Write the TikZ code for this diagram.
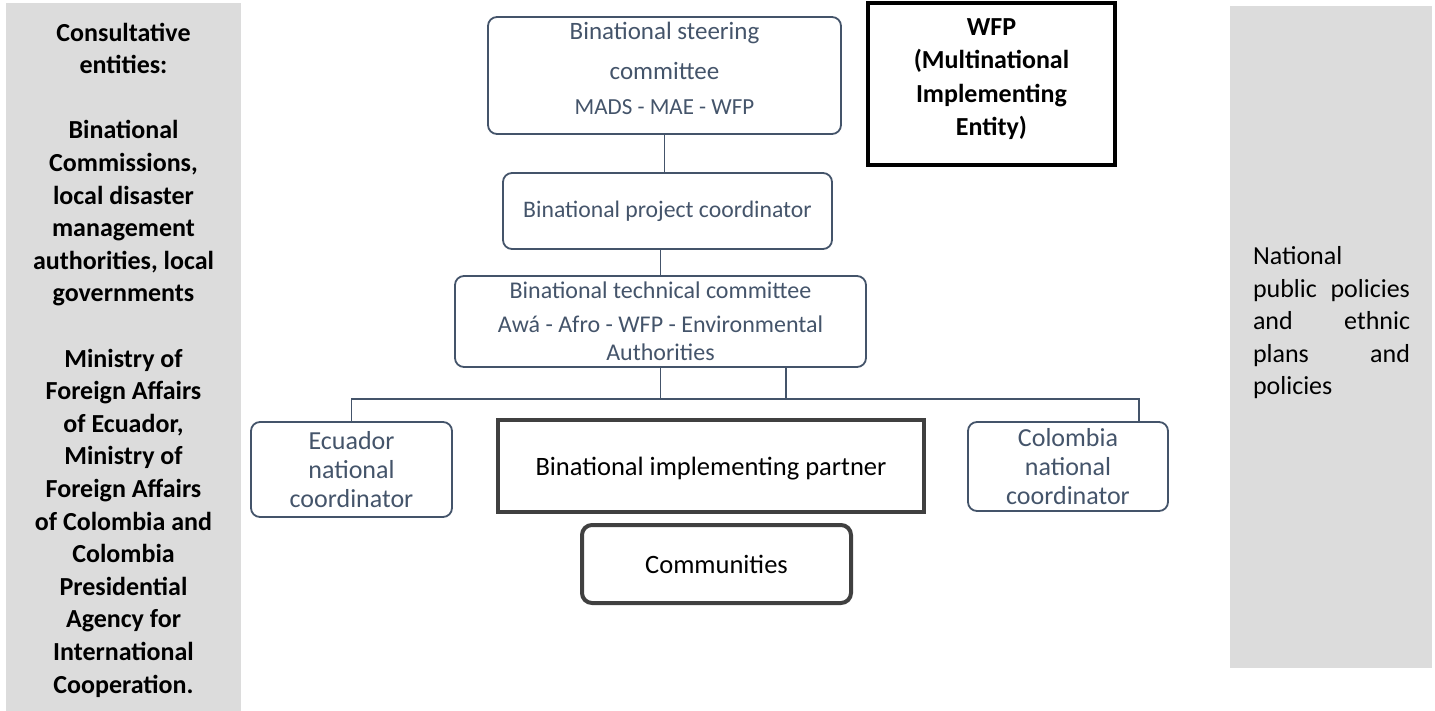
\documentclass[tikz,border=0pt]{standalone}
\usepackage{fontspec}
\setmainfont{Carlito}
\usetikzlibrary{positioning}
\definecolor{slate}{HTML}{44546A}
\definecolor{panelgray}{HTML}{DCDCDC}
\definecolor{darkline}{HTML}{404040}

\begin{document}
\begin{tikzpicture}[x=1pt,y=-1pt]
	\tikzstyle{orgbox} = [draw=slate,line width=1.8pt,rounded corners=9pt,text=slate,align=center,inner sep=2pt]
	\tikzstyle{heavybox} = [draw=darkline,line width=4pt,align=center,inner sep=2pt]
	\tikzstyle{link} = [draw=slate,line width=1.8pt]

	\useasboundingbox (0,0) rectangle (1435,711);

	% side panels
	\fill[panelgray] (6,3) rectangle (241,711);
	\fill[panelgray] (1230,6) rectangle (1432,668);

	\node[font=\bfseries\fontsize{26}{32.6}\selectfont,align=center] (consult) at (123.5,360) {Consultative\\entities:\\[32.6pt]Binational\\Commissions,\\local disaster\\management\\authorities, local\\governments\\[32.6pt]Ministry of\\Foreign Affairs\\of Ecuador,\\Ministry of\\Foreign Affairs\\of Colombia and\\Colombia\\Presidential\\Agency for\\International\\Cooperation.};
	\node[font=\fontsize{26}{32.5}\selectfont,align=left,text width=157pt,inner sep=0pt] (policies) at (1331.5,323) {National\\public\hfill policies\\and\hfill ethnic\\plans\hfill and\\policies};

	\node[orgbox,minimum width=353,minimum height=117,text depth=15pt,font=\fontsize{25}{40}\selectfont] (steer) at (664.5,75.5) {Binational steering\\committee\\[-5pt]{\fontsize{23}{28}\selectfont MADS - MAE - WFP}};
	\node[draw=black,line width=4pt,align=center,minimum width=247,minimum height=162,text depth=14pt,font=\bfseries\fontsize{26}{33.5}\selectfont] (wfp) at (991.5,84) {WFP\\(Multinational\\Implementing\\Entity)};
	\node[orgbox,minimum width=329,minimum height=76,font=\fontsize{23.7}{28}\selectfont] (coord) at (667.5,211) {Binational project coordinator};
	\node[orgbox,minimum width=411,minimum height=91,font=\fontsize{24}{28}\selectfont] (tech) at (660.5,321.5) {Binational technical committee\\[6pt]Awá - Afro - WFP - Environmental\\Authorities};
	\node[orgbox,minimum width=201,minimum height=95,font=\fontsize{26}{29}\selectfont] (ecu) at (351.5,469.5) {Ecuador\\national\\coordinator};
	\node[heavybox,minimum width=426,minimum height=92,text height=24pt,font=\fontsize{26.5}{32}\selectfont] (partner) at (711,466) {Binational implementing partner};
	\node[orgbox,minimum width=200,minimum height=89,font=\fontsize{26}{29}\selectfont] (colo) at (1068,466.5) {Colombia\\national\\coordinator};
	\node[heavybox,rounded corners=10pt,minimum width=269,minimum height=78,font=\fontsize{26.5}{32}\selectfont] (comm) at (716.5,564) {Communities};

	\coordinate (busR) at (1139,399);
	\coordinate (coloTop) at (1139,422);
	\coordinate (techR) at (786,367);

	\begin{scope}[link]
		\draw (steer.south) -- (steer.south |- coord.north);
		\draw (coord.south -| tech.north) -- (tech.north);
		\draw (tech.south) -- (tech.south |- busR);
		\draw (techR) -- (techR |- busR);
		\draw (ecu.north) |- (busR) -- (coloTop);
	\end{scope}
\end{tikzpicture}
\end{document}
